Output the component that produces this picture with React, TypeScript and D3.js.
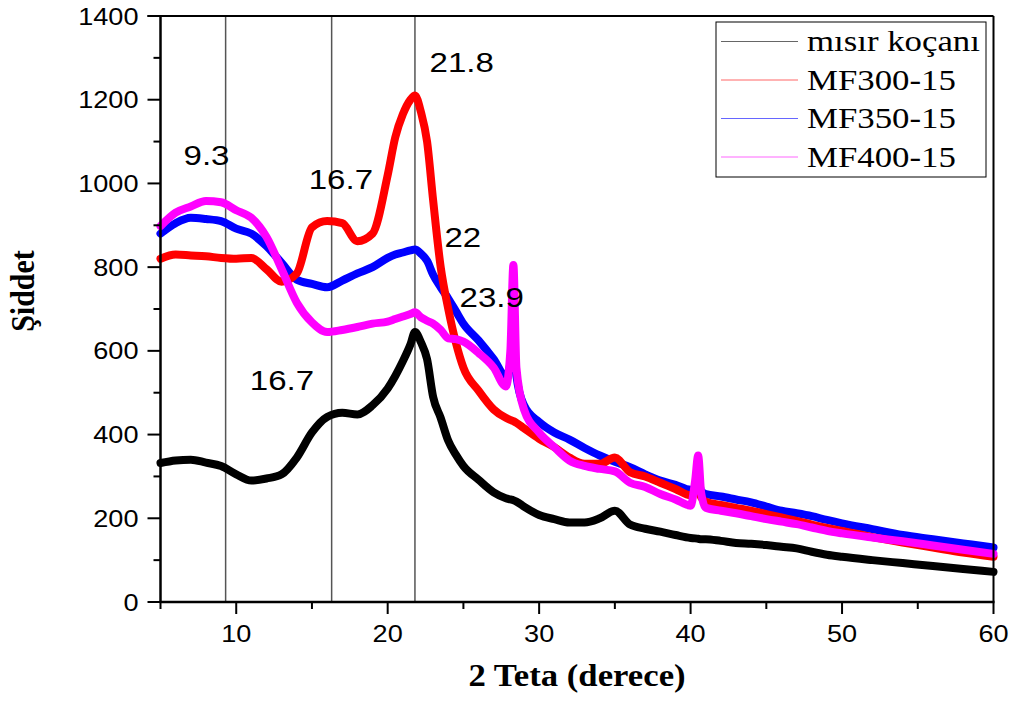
import React from "react";
import * as d3 from "d3";

// 2θ grid (degrees) shared by all patterns
const theta = [5, 6, 7, 8, 9, 10, 11, 12, 13, 14, 15, 16, 17, 18, 19, 20, 20.5, 21, 21.5, 21.8, 22.2, 22.6, 23, 23.5, 24, 24.5, 25, 26, 27, 27.8, 28.1, 28.3, 28.5, 29, 30, 31, 32, 33, 34, 35, 36, 37, 38, 39, 40, 40.3, 40.5, 40.7, 41, 42, 43, 44, 45, 46, 47, 48, 49, 50, 52, 54, 56, 58, 60];

const misirKocani = [332, 338, 340, 333, 325, 305, 290, 295, 305, 345, 405, 442, 452, 448, 470, 510, 540, 575, 615, 645, 620, 580, 490, 440, 385, 352, 325, 292, 262, 248, 245, 243, 240, 228, 208, 198, 190, 190, 200, 218, 185, 175, 168, 160, 153, 152, 151, 150, 150, 146, 141, 139, 136, 132, 128, 120, 113, 108, 100, 93, 86, 79, 72];

const mf300 = [820, 830, 828, 826, 822, 820, 822, 795, 765, 785, 895, 910, 905, 862, 880, 1020, 1110, 1165, 1200, 1210, 1170, 1100, 960, 800, 700, 620, 560, 505, 460, 440, 435, 432, 428, 415, 390, 370, 345, 330, 330, 345, 310, 300, 285, 270, 255, 260, 265, 250, 240, 232, 225, 218, 210, 202, 194, 185, 177, 170, 155, 142, 130, 118, 108];

const mf350 = [880, 905, 918, 915, 910, 892, 880, 850, 810, 770, 760, 752, 768, 785, 800, 822, 830, 835, 840, 842, 832, 815, 782, 752, 725, 695, 665, 625, 580, 540, 570, 626, 540, 470, 430, 405, 388, 368, 350, 335, 322, 305, 290, 280, 268, 275, 290, 265, 258, 252, 245, 238, 228, 218, 212, 205, 196, 188, 174, 160, 150, 140, 130];

const mf400 = [898, 930, 945, 958, 955, 936, 918, 872, 795, 715, 668, 645, 650, 657, 665, 670, 676, 682, 688, 692, 680, 672, 665, 650, 630, 628, 622, 595, 560, 515, 600, 805, 560, 460, 405, 370, 338, 325, 318, 312, 285, 275, 258, 245, 230, 290, 350, 260, 225, 218, 212, 205, 198, 192, 186, 178, 170, 164, 154, 145, 135, 125, 115];

const seriesNames = ["mısır koçanı", "MF300-15", "MF350-15", "MF400-15"];
const seriesColors = ["#000000", "#ff0000", "#0000ff", "#ff00ff"];
const seriesValues = [misirKocani, mf300, mf350, mf400];
const drawOrder = [0, 2, 1, 3];

const xMajorTicks = [10, 20, 30, 40, 50, 60];
const xMinorTicks = [5, 15, 25, 35, 45, 55];
const yMajorTicks = [0, 200, 400, 600, 800, 1000, 1200, 1400];
const yMinorTicks = [100, 300, 500, 700, 900, 1100, 1300];

const refLines = [9.3, 16.3, 21.8];
const peakLabels = ["9.3", "16.7", "16.7", "21.8", "22", "23.9"];
const peakLabelTheta = [8.04, 16.91, 13.02, 24.89, 24.96, 26.87];
const peakLabelIntensity = [1044, 987, 506, 1266, 848, 705];

const SANS = "'Liberation Sans', Arial, sans-serif";
const SERIF = "'Liberation Serif', 'Times New Roman', serif";

function SText({ x, y, sx = 1, anchor = "start", size, family, weight = "normal", children }: any) {
  return (
    <text
      transform={`translate(${x},${y}) scale(${sx},1)`}
      textAnchor={anchor}
      fontSize={size}
      fontFamily={family}
      fontWeight={weight}
      fill="#000"
    >
      {children}
    </text>
  );
}

export default function App() {
  const W = 1017;
  const H = 701;
  const x = d3.scaleLinear().domain([5, 60]).range([160.5, 993.5]);
  const y = d3.scaleLinear().domain([0, 1400]).range([602, 16]);
  const x0 = x.range()[0];
  const x1 = x.range()[1];
  const y0 = y.range()[0];
  const y1 = y.range()[1];

  const line = (vals: number[]) =>
    d3
      .line<number>()
      .x((_, i) => x(theta[i]))
      .y((d) => y(d))
      .curve(d3.curveMonotoneX)(vals) || "";

  return (
    <svg
      width={W}
      height={H}
      style={{ position: "absolute", left: 0, top: 0, background: "#fff" }}
    >
      <rect x={0} y={0} width={W} height={H} fill="#fff" />
      {/* reference vertical lines */}
      {refLines.map((t, i) => (
        <line key={"rl" + i} x1={x(t)} x2={x(t)} y1={y0} y2={y1} stroke="#555" strokeWidth={1.5} />
      ))}
      {/* series */}
      {drawOrder.map((si) => (
        <path
          key={"s" + si}
          d={line(seriesValues[si])}
          fill="none"
          stroke={seriesColors[si]}
          strokeWidth={8}
          strokeLinejoin="round"
          strokeLinecap="round"
        />
      ))}
      {/* frame */}
      <line x1={x0 - 13} x2={x1} y1={y1} y2={y1} stroke="#000" strokeWidth={2} />
      <line x1={x1} x2={x1} y1={y1} y2={y0} stroke="#000" strokeWidth={2} />
      <line x1={x0} x2={x0} y1={y1} y2={y0 + 1} stroke="#000" strokeWidth={2.5} />
      <line x1={x0 - 1} x2={x1 + 1} y1={y0} y2={y0} stroke="#000" strokeWidth={2.5} />
      {/* y ticks */}
      {yMajorTicks.map((v) => (
        <g key={"ym" + v}>
          <line x1={x0 - 13} x2={x0} y1={y(v)} y2={y(v)} stroke="#000" strokeWidth={2} />
          <SText x={x0 - 22} y={y(v) + 8.5} sx={1.13} anchor="end" size={24} family={SANS}>
            {String(v)}
          </SText>
        </g>
      ))}
      {yMinorTicks.map((v) => (
        <line key={"yn" + v} x1={x0 - 7} x2={x0} y1={y(v)} y2={y(v)} stroke="#000" strokeWidth={2} />
      ))}
      {/* x ticks */}
      {xMajorTicks.map((t) => (
        <g key={"xm" + t}>
          <line x1={x(t)} x2={x(t)} y1={y0} y2={y0 + 12} stroke="#000" strokeWidth={2} />
          <SText x={x(t)} y={642} sx={1.13} anchor="middle" size={24} family={SANS}>
            {String(t)}
          </SText>
        </g>
      ))}
      {xMinorTicks.map((t) => (
        <line key={"xn" + t} x1={x(t)} x2={x(t)} y1={y0} y2={y0 + 7} stroke="#000" strokeWidth={2} />
      ))}
      {/* axis titles */}
      <SText x={577} y={686} sx={1.12} anchor="middle" size={31} family={SERIF} weight="bold">
        2 Teta (derece)
      </SText>
      <text
        transform="translate(34,291) rotate(-90) scale(1,1.14)"
        textAnchor="middle"
        fontSize={30}
        fontFamily={SERIF}
        fontWeight="bold"
        fill="#000"
      >
        Şiddet
      </text>
      {/* peak labels */}
      {peakLabels.map((s, i) => (
        <SText
          key={"pl" + i}
          x={x(peakLabelTheta[i])}
          y={y(peakLabelIntensity[i])}
          sx={1.18}
          anchor="middle"
          size={28}
          family={SANS}
        >
          {s}
        </SText>
      ))}
      {/* legend */}
      <rect x={716} y={22} width={270} height={155} fill="#fff" stroke="#000" strokeWidth={1} />
      {seriesNames.map((n, i) => (
        <g key={"lg" + i}>
          <line
            x1={721}
            x2={798}
            y1={41.5 + i * 38.5}
            y2={41.5 + i * 38.5}
            stroke={seriesColors[i]}
            strokeWidth={1}
            strokeOpacity={0.6}
          />
          <SText x={807} y={51 + i * 38.5} sx={1.16} size={30} family={SERIF}>
            {n}
          </SText>
        </g>
      ))}
    </svg>
  );
}
